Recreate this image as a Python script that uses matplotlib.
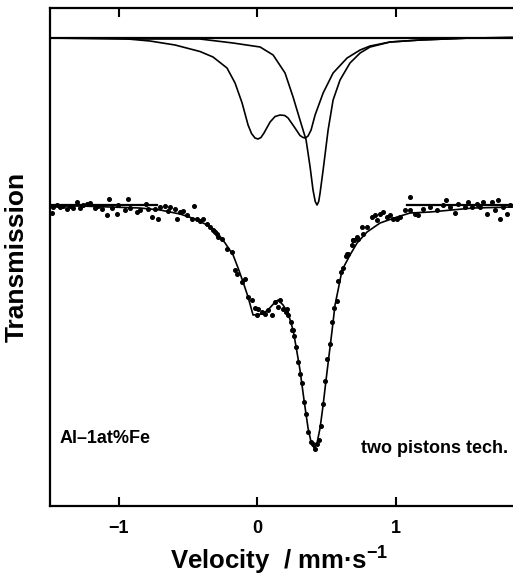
import matplotlib
matplotlib.use("Agg")
import matplotlib.pyplot as plt

plt.rcParams['font.family'] = ['Liberation Sans', 'DejaVu Sans']
plt.rcParams['mathtext.fontset'] = 'custom'
plt.rcParams['mathtext.rm'] = 'Liberation Sans:bold'
plt.rcParams['mathtext.bf'] = 'Liberation Sans:bold'
plt.rcParams['mathtext.default'] = 'bf'

# ---- measured data points (velocity mm/s, relative transmission) ----
data_v = [-1.482, -1.471, -1.446, -1.422, -1.398, -1.374, -1.350, -1.326, -1.302, -1.278,
          -1.254, -1.230, -1.206, -1.170, -1.146, -1.121, -1.085, -1.066, -1.049, -1.013,
          -1.001, -0.953, -0.929, -0.917, -0.869, -0.845, -0.801, -0.785, -0.760, -0.736,
          -0.712, -0.700, -0.664, -0.640, -0.628, -0.592, -0.580, -0.556, -0.532, -0.508,
          -0.472, -0.455, -0.435, -0.412, -0.388, -0.364, -0.339, -0.316, -0.291, -0.279,
          -0.303, -0.255, -0.219, -0.183, -0.159, -0.147, -0.110, -0.087, -0.063, -0.038,
          -0.014, 0.009, -0.002, 0.034, 0.058, 0.082, 0.106, 0.130, 0.166, 0.154,
          0.190, 0.209, 0.226, 0.243, 0.262, 0.269, 0.214, 0.251, 0.279, 0.298,
          0.310, 0.323, 0.339, 0.354, 0.370, 0.388, 0.407, 0.419, 0.431, 0.448,
          0.460, 0.474, 0.491, 0.508, 0.527, 0.544, 0.556, 0.575, 0.587, 0.604,
          0.619, 0.643, 0.659, 0.684, 0.700, 0.731, 0.763, 0.648, 0.696, 0.720,
          0.756, 0.792, 0.828, 0.852, 0.864, 0.888, 0.912, 0.936, 0.960, 0.984,
          1.009, 1.032, 1.069, 1.105, 1.105, 1.141, 1.165, 1.201, 1.249, 1.297,
          1.345, 1.365, 1.394, 1.430, 1.454, 1.502, 1.526, 1.550, 1.586, 1.610,
          1.634, 1.658, 1.695, 1.718, 1.742, 1.755, 1.778, 1.803, 1.827, 0.691]
data_t = [0.9987, 0.9999, 1.0002, 0.9999, 1.0001, 0.9995, 1.0001, 0.9997, 1.0009, 0.9997,
          1.0002, 1.0005, 1.0007, 0.9997, 1.0001, 0.9995, 0.9982, 1.0014, 0.9997, 0.9985,
          1.0002, 0.9992, 1.0015, 0.9997, 0.9989, 0.9992, 1.0005, 0.9995, 0.9979, 0.9995,
          0.9975, 0.9999, 1.0001, 0.9990, 0.9999, 0.9995, 0.9975, 0.9989, 0.9990, 0.9982,
          0.9975, 1.0001, 0.9974, 0.9970, 0.9974, 0.9965, 0.9959, 0.9952, 0.9945, 0.9939,
          0.9949, 0.9935, 0.9915, 0.9909, 0.9872, 0.9865, 0.9849, 0.9855, 0.9819, 0.9812,
          0.9797, 0.9795, 0.9782, 0.9789, 0.9785, 0.9792, 0.9782, 0.9809, 0.9812, 0.9799,
          0.9795, 0.9789, 0.9782, 0.9769, 0.9752, 0.9740, 0.9795, 0.9753, 0.9719, 0.9689,
          0.9665, 0.9647, 0.9609, 0.9585, 0.9549, 0.9529, 0.9525, 0.9515, 0.9525, 0.9532,
          0.9560, 0.9605, 0.9651, 0.9695, 0.9725, 0.9769, 0.9797, 0.9811, 0.9851, 0.9869,
          0.9877, 0.9900, 0.9905, 0.9922, 0.9932, 0.9935, 0.9945, 0.9905, 0.9932, 0.9939,
          0.9959, 0.9959, 0.9979, 0.9982, 0.9972, 0.9985, 0.9989, 0.9979, 0.9982, 0.9975,
          0.9975, 0.9979, 0.9992, 1.0019, 0.9992, 0.9985, 0.9982, 0.9995, 0.9999, 0.9993,
          1.0002, 1.0013, 0.9999, 0.9987, 1.0005, 0.9999, 1.0009, 0.9999, 1.0005, 0.9999,
          1.0009, 0.9985, 1.0009, 0.9992, 1.0012, 0.9975, 0.9999, 0.9985, 1.0002, 0.9932]

# ---- fitted total spectrum ----
fit_v = [-1.495, -1.278, -1.061, -0.845, -0.700, -0.556, -0.448, -0.361, -0.303, -0.231,
         -0.173, -0.137, -0.101, -0.065, -0.029, 0.036, 0.079, 0.130, 0.152, 0.188,
         0.224, 0.260, 0.282, 0.310, 0.339, 0.368, 0.390, 0.412, 0.433, 0.455,
         0.477, 0.498, 0.520, 0.542, 0.563, 0.585, 0.614, 0.671, 0.722, 0.794,
         0.888, 1.011, 1.105, 1.249, 1.560, 1.848]
fit_t = [1.0000, 1.0000, 0.9998, 0.9996, 0.9992, 0.9984, 0.9974, 0.9962, 0.9952, 0.9926,
         0.9902, 0.9876, 0.9848, 0.9818, 0.9782, 0.9784, 0.9792, 0.9808, 0.9812, 0.9802,
         0.9786, 0.9752, 0.9718, 0.9672, 0.9612, 0.9556, 0.9528, 0.9516, 0.9526, 0.9556,
         0.9602, 0.9652, 0.9702, 0.9752, 0.9802, 0.9832, 0.9872, 0.9902, 0.9926, 0.9948,
         0.9966, 0.9978, 0.9986, 0.9988, 0.9996, 0.9998]

# baseline segments of the main spectrum
base_left_v = [-1.495, -0.722]
base_left_t = [1.0002, 1.0002]
base_right_v = [1.083, 1.848]
base_right_t = [1.0003, 1.0003]

# ---- subspectra (own baseline = 1.0, shown shifted upward) ----
doublet_v = [-1.495, -1.011, -0.773, -0.592, -0.412, -0.318, -0.217, -0.159, -0.108, -0.065,
             -0.040, -0.015, 0.007, 0.028, 0.050, 0.094, 0.130, 0.166, 0.200, 0.224,
             0.274, 0.310, 0.332, 0.350, 0.368, 0.390, 0.419, 0.477, 0.549, 0.650,
             0.744, 0.816, 0.960, 1.177, 1.538, 1.848]
doublet_t = [0.9999, 0.9999, 0.9993, 0.9985, 0.9972, 0.9961, 0.9939, 0.9909, 0.9869, 0.9825,
             0.9808, 0.9799, 0.9797, 0.9800, 0.9809, 0.9831, 0.9842, 0.9845, 0.9844, 0.9839,
             0.9819, 0.9804, 0.9800, 0.9799, 0.9803, 0.9815, 0.9845, 0.9889, 0.9929, 0.9959,
             0.9975, 0.9983, 0.9991, 0.9995, 0.9999, 1.0000]
singlet_v = [-1.495, -1.011, -0.412, -0.173, 0.022, 0.116, 0.202, 0.260, 0.310, 0.354,
             0.383, 0.404, 0.420, 0.433, 0.445, 0.455, 0.477, 0.513, 0.549, 0.599,
             0.671, 0.744, 0.816, 0.960, 1.177, 1.538, 1.848]
singlet_t = [0.9999, 0.9997, 0.9997, 0.9989, 0.9981, 0.9965, 0.9929, 0.9881, 0.9835, 0.9795,
             0.9741, 0.9695, 0.9672, 0.9665, 0.9672, 0.9689, 0.9735, 0.9815, 0.9875, 0.9915,
             0.9949, 0.9969, 0.9981, 0.9991, 0.9995, 0.9999, 1.0000]
sub_offset = 0.0337
sub_base_v = [-1.495, 1.848]
sub_base_t = [1.0, 1.0]

xticks = [-1, 0, 1]
xticklabels = ['\u22121', '0', '1']

fig = plt.figure(figsize=(5.13, 5.76), dpi=100)
ax = fig.add_axes([0.0975, 0.1215, 0.9025, 0.8646])
ax.set_xlim(-1.495, 1.848)
ax.set_ylim(0.940, 1.0396)

lw = 1.2
ax.plot(sub_base_v, [t + sub_offset for t in sub_base_t], color='black', lw=1.6)
ax.plot(doublet_v, [t + sub_offset for t in doublet_t], color='black', lw=lw)
ax.plot(singlet_v, [t + sub_offset for t in singlet_t], color='black', lw=lw)
ax.plot(fit_v, fit_t, color='black', lw=lw)
ax.plot(base_left_v, base_left_t, color='black', lw=1.6)
ax.plot(base_right_v, base_right_t, color='black', lw=1.6)
ax.plot(data_v, data_t, linestyle='none', marker='o', ms=2.6, color='black')

for s in ['left', 'top', 'bottom']:
    ax.spines[s].set_linewidth(1.6)
ax.spines['right'].set_visible(False)
ax.set_yticks([])
ax.set_xticks(xticks)
ax.set_xticklabels(xticklabels, fontsize=13, fontweight='bold')
ax.tick_params(axis='x', direction='in', top=True, bottom=True, length=6.5,
               width=1.5, pad=10)

fig.text(0.033, 0.554, 'Transmission', rotation=90, fontsize=19, fontweight='bold',
         ha='center', va='center')
fig.text(0.545, 0.011, 'Velocity  / mm\u00b7s$^{-1}$', fontsize=18.5, fontweight='bold',
         ha='center', va='baseline')

ax.text(0.02, 0.135, 'Al\u20131at%Fe', transform=ax.transAxes, fontsize=13,
        fontweight='bold', ha='left', va='center')
ax.text(0.99, 0.115, 'two pistons tech.', transform=ax.transAxes, fontsize=13,
        fontweight='bold', ha='right', va='center')

fig.savefig('out.png', dpi=100)
